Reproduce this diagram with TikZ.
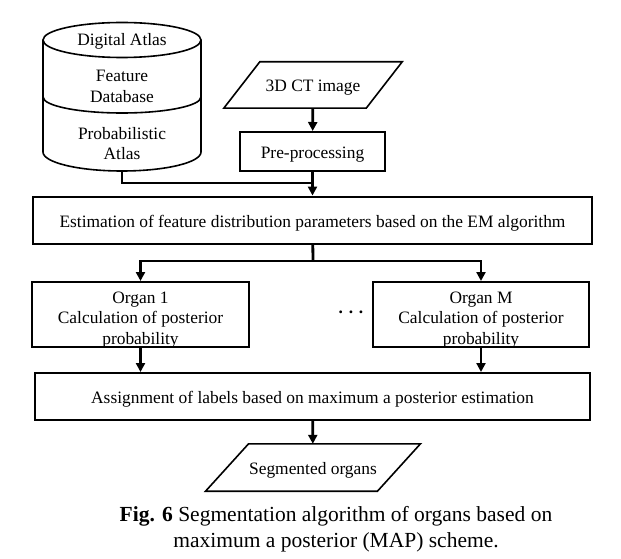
\documentclass[tikz,border=0pt]{standalone}
\usepackage{fontspec}
\setmainfont{Liberation Serif}
\usetikzlibrary{arrows.meta,calc}

\begin{document}
\begin{tikzpicture}[x=1pt, y=-1pt,
    font=\fontsize{17.4}{20.5}\selectfont,
    box/.style={draw, line width=2pt, inner sep=0pt},
    io/.style={inner sep=0pt},
    txt/.style={align=center, yshift=-3pt},
    outline/.style={line width=1.6pt},
    flow/.style={line width=2.8pt, -{Triangle[length=9pt,width=9pt]}},
    link/.style={line width=2.8pt}]
    \useasboundingbox (0,0) rectangle (621,559);

    % 数据库（圆柱）
    \draw[outline] (122,40) ellipse[x radius=79pt, y radius=17.5pt];
    \draw[outline] (43,40) -- (43,152) arc[start angle=180, end angle=360, x radius=79pt, y radius=19pt] -- (201,40);
    \draw[outline] (43,97) arc[start angle=180, end angle=360, x radius=79pt, y radius=16pt];
    \node (digital) at (122,41) {Digital Atlas};
    \node[align=center] (feature) at (122,86.5) {Feature\\Database};
    \node[align=center] (prob) at (122,143.5) {Probabilistic\\Atlas};
    \coordinate (dbout) at (122,171);
    \coordinate (merge) at (313,183);

    % 输入图像
    \node[io, minimum width=142pt, minimum height=46pt] (ct) at (313,85) {};
    \draw[outline] ($(ct.north west)+(18,0)$) -- ($(ct.north east)+(18,0)$)
        -- ($(ct.south east)+(-18,0)$) -- ($(ct.south west)+(-18,0)$) -- cycle;
    \node[txt] (cttext) at (ct) {3D CT image};

    \node[box, minimum width=145pt, minimum height=39pt] (pre) at (312.5,151.5) {};
    \node[txt] (pretext) at (pre) {Pre-processing};
    \node[box, minimum width=559pt, minimum height=47.5pt] (est) at (312.5,220.3) {};
    \node[txt] (esttext) at (est) {Estimation of feature distribution parameters based on the EM algorithm};
    \coordinate (split) at (313,261);

    % 各器官
    \node[box, minimum width=217pt, minimum height=65pt] (org1) at (140.5,314.5) {};
    \node[txt, yshift=-2.5pt] (org1text) at (org1) {Organ 1\\Calculation of posterior\\probability};
    \node[box, minimum width=216pt, minimum height=65pt] (orgM) at (481,314.5) {};
    \node[txt, yshift=-2.5pt] (orgMtext) at (orgM) {Organ M\\Calculation of posterior\\probability};
    \node[font=\fontsize{17.4}{20.5}\bfseries] (dots) at (351,312) {. . .};

    \node[box, minimum width=555pt, minimum height=47pt] (assign) at (312.5,396.5) {};
    \node[txt] (assigntext) at (assign) {Assignment of labels based on maximum a posterior estimation};

    % 输出
    \node[io, minimum width=171.5pt, minimum height=47pt] (seg) at (313,467.5) {};
    \draw[outline] ($(seg.north west)+(21.5,0)$) -- ($(seg.north east)+(21.5,0)$)
        -- ($(seg.south east)+(-21.5,0)$) -- ($(seg.south west)+(-21.5,0)$) -- cycle;
    \node[txt] (segtext) at (seg) {Segmented organs};

    % 连线
    \draw[flow] (ct) -- (pre);
    \draw[flow] (pre) -- (est);
    \draw[link] (dbout) |- (merge);
    \draw[link] (est) -- (split);
    \draw[flow] (split) -| (org1);
    \draw[flow] (split) -| (orgM);
    \draw[flow] (org1.south) -- (org1.south |- assign.north);
    \draw[flow] (orgM.south) -- (orgM.south |- assign.north);
    \draw[flow] (assign) -- (seg);

    \node[font=\fontsize{21.5}{26.5}\selectfont, align=center] (caption) at (336,529)
        {\textbf{Fig. 6} Segmentation algorithm of organs based on\\maximum a posterior (MAP) scheme.};
\end{tikzpicture}
\end{document}
